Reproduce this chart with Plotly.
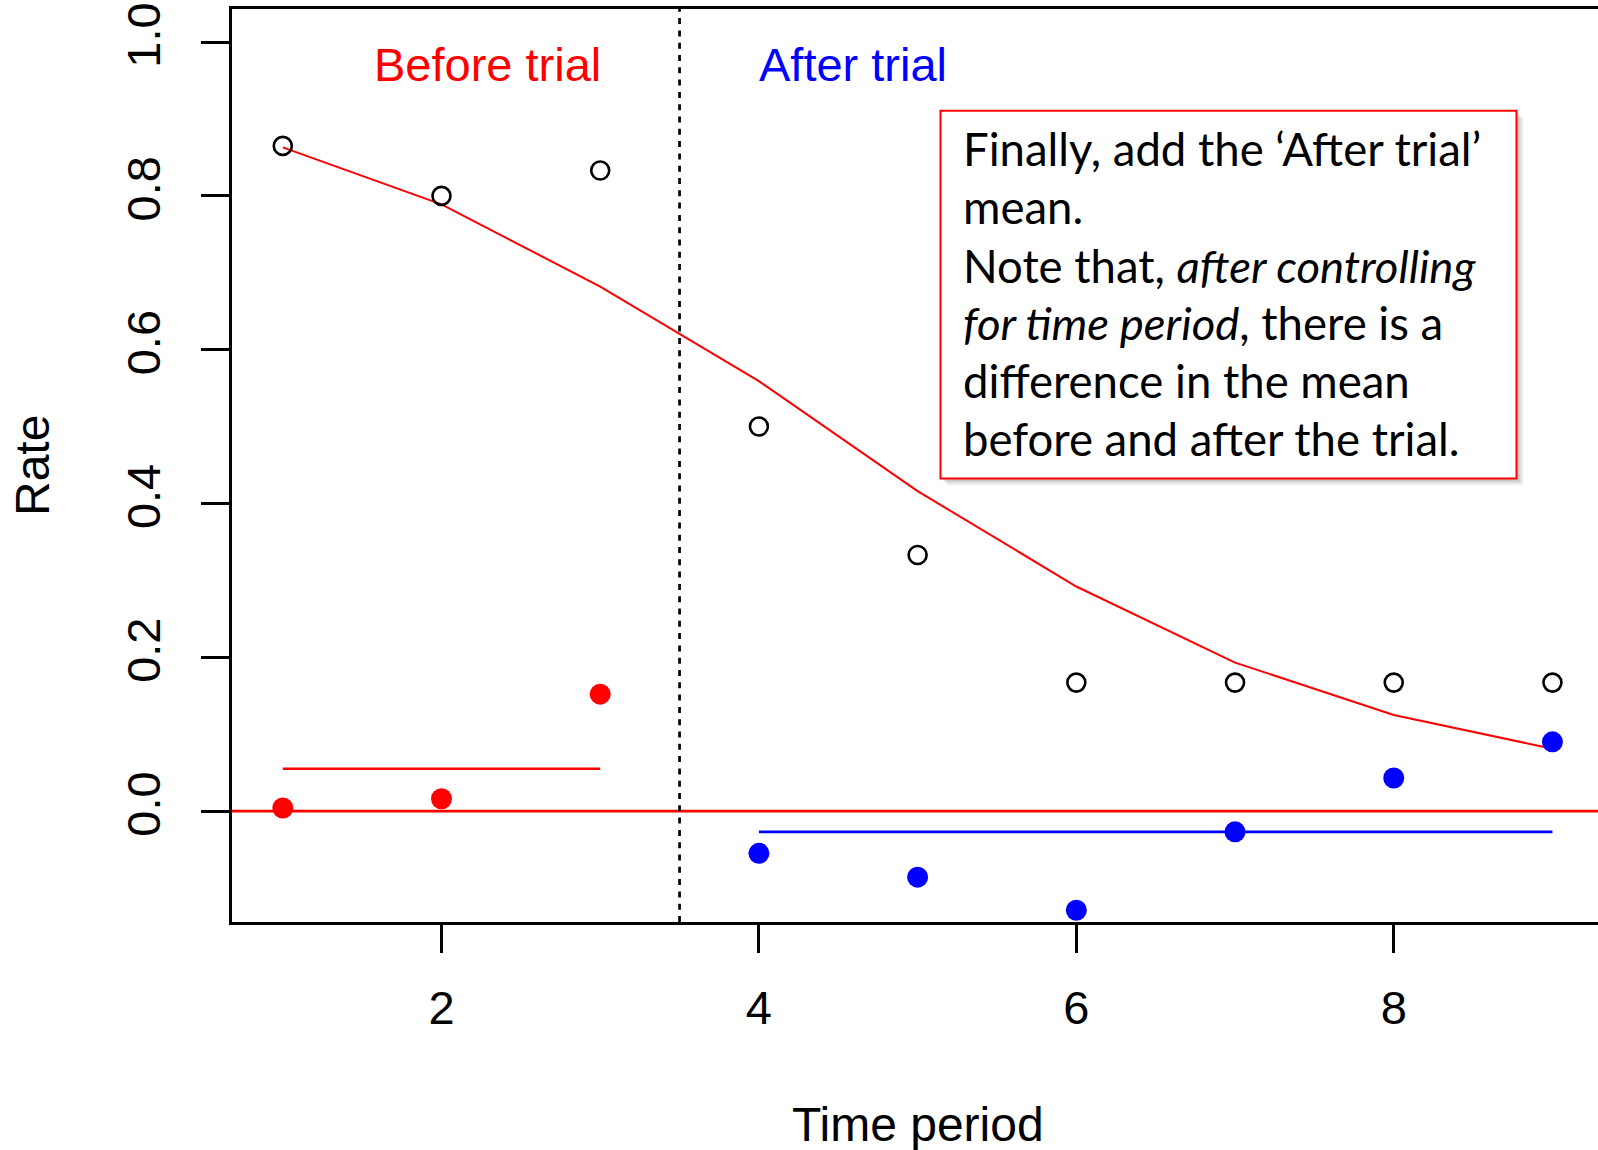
import plotly.graph_objects as go

# ---------------- data ----------------
time_period = [1, 2, 3, 4, 5, 6, 7, 8, 9]
rate = [0.865, 0.800, 0.833, 0.500, 0.333, 0.167, 0.167, 0.167, 0.167]
smooth_fit = [0.863, 0.789, 0.682, 0.559, 0.416, 0.292, 0.193, 0.125, 0.081]

before_x = [1, 2, 3]
before_resid = [0.004, 0.016, 0.152]
after_x = [4, 5, 6, 7, 8, 9]
after_resid = [-0.055, -0.086, -0.129, -0.027, 0.043, 0.090]

before_mean_x = [1, 3]
before_mean_y = [0.055, 0.055]
after_mean_x = [4, 9]
after_mean_y = [-0.027, -0.027]

trial_split = 3.5
zero_level = 0.0

x_ticks = [2, 4, 6, 8]
x_tick_labels = ["2", "4", "6", "8"]
y_ticks = [0.0, 0.2, 0.4, 0.6, 0.8, 1.0]
y_tick_labels = ["0.0", "0.2", "0.4", "0.6", "0.8", "1.0"]

x_range = [0.68, 9.287]
y_range = [-0.1443, 1.043]

x_title = "Time period"
y_title = "Rate"

phase_labels = ["Before trial", "After trial"]
phase_label_x = [2.287, 4.592]
phase_label_y = [0.971, 0.971]
phase_colors = ["#FF0000", "#0000FF"]

note_lines = [
    "Finally, add the \u2018After trial\u2019",
    "mean.",
    "Note that, <i>after controlling</i>",
    "<i>for time period</i>, there is a",
    "difference in the mean",
    "before and after the trial.",
]

# ---------------- layout geometry ----------------
W, H = 1598, 1150
ML, MR, MT, MB = 232, 0, 9, 228
PW, PH = W - ML - MR, H - MT - MB


def px_x(p):
    return (p - ML) / PW


def px_y(p):
    return (H - MB - p) / PH


AX_FONT = "Liberation Sans, Arial, sans-serif"
NOTE_FONT = "Lato, Carlito, Calibri, sans-serif"

fig = go.Figure()

# mean lines
fig.add_trace(go.Scatter(x=before_mean_x, y=before_mean_y, mode="lines",
                         line=dict(color="#FF0000", width=2.7), hoverinfo="skip"))
fig.add_trace(go.Scatter(x=after_mean_x, y=after_mean_y, mode="lines",
                         line=dict(color="#0000FF", width=2.7), hoverinfo="skip"))
# smooth fit
fig.add_trace(go.Scatter(x=time_period, y=smooth_fit, mode="lines",
                         line=dict(color="#FF0000", width=2)))
# raw rates (open circles)
fig.add_trace(go.Scatter(x=time_period, y=rate, mode="markers",
                         marker=dict(symbol="circle-open", size=18, color="black",
                                     line=dict(width=2.6, color="black"))))
# residuals
fig.add_trace(go.Scatter(x=before_x, y=before_resid, mode="markers",
                         marker=dict(symbol="circle", size=21, color="#FF0000")))
fig.add_trace(go.Scatter(x=after_x, y=after_resid, mode="markers",
                         marker=dict(symbol="circle", size=21, color="#0000FF")))

# zero line and trial split
fig.add_shape(type="line", xref="paper", x0=0, x1=1, yref="y", y0=zero_level, y1=zero_level,
              line=dict(color="#FF0000", width=2.7), layer="below")
fig.add_shape(type="line", xref="x", x0=trial_split, x1=trial_split, yref="paper", y0=0, y1=1,
              line=dict(color="black", width=2.7, dash="6px,6.3px"), layer="below")

# phase labels
for txt, lx, ly, col in zip(phase_labels, phase_label_x, phase_label_y, phase_colors):
    fig.add_annotation(x=lx, y=ly, xref="x", yref="y", text=txt, showarrow=False,
                       xanchor="center", yanchor="middle",
                       font=dict(family=AX_FONT, size=47, color=col))

# axis titles
fig.add_annotation(x=px_x(917.5), y=px_y(1124), xref="paper", yref="paper", text=x_title,
                   showarrow=False, xanchor="center", yanchor="middle",
                   font=dict(family=AX_FONT, size=48, color="black"))
fig.add_annotation(x=px_x(32), y=px_y(466), xref="paper", yref="paper", text=y_title,
                   showarrow=False, xanchor="center", yanchor="middle", textangle=-90,
                   font=dict(family=AX_FONT, size=48, color="black"))

# note box with soft shadow
bx0, bx1, by0, by1 = 940.5, 1516.5, 110.7, 478.5
for off, alpha in [(7, 0.05), (5, 0.08), (3, 0.10)]:
    fig.add_shape(type="rect", xref="paper", yref="paper",
                  x0=px_x(bx0 + off), x1=px_x(bx1 + off), y0=px_y(by1 + off), y1=px_y(by0 + off),
                  line=dict(width=0), fillcolor=f"rgba(0,0,0,{alpha})", layer="above")
fig.add_shape(type="rect", xref="paper", yref="paper",
              x0=px_x(bx0), x1=px_x(bx1), y0=px_y(by1), y1=px_y(by0),
              line=dict(color="#FF0000", width=2), fillcolor="white", layer="above")

line_centers = [148.8, 206.9, 265.0, 322.1, 380.2, 438.3]
for txt, cy in zip(note_lines, line_centers):
    fig.add_annotation(x=px_x(961), y=px_y(cy), xref="paper", yref="paper", text=txt,
                       showarrow=False, xanchor="left", yanchor="middle",
                       font=dict(family=NOTE_FONT, size=45.5, color="black"))

fig.update_layout(
    width=W, height=H,
    margin=dict(l=ML, r=MR, t=MT, b=MB, pad=0),
    paper_bgcolor="white", plot_bgcolor="white",
    showlegend=False,
    xaxis=dict(
        range=x_range, tickmode="array", tickvals=x_ticks, ticktext=x_tick_labels,
        ticks="outside", ticklen=28, tickwidth=2.5, tickcolor="black",
        showline=True, linewidth=3, linecolor="black", mirror=True,
        showgrid=False, zeroline=False,
        tickfont=dict(family=AX_FONT, size=47, color="black"),
        ticklabelstandoff=15,
        automargin=False,
    ),
    yaxis=dict(
        range=y_range, tickmode="array", tickvals=y_ticks, ticktext=y_tick_labels,
        ticks="outside", ticklen=28, tickwidth=2.5, tickcolor="black",
        showline=True, linewidth=3, linecolor="black", mirror=False,
        showgrid=False, zeroline=False, tickangle=-90,
        tickfont=dict(family=AX_FONT, size=47, color="black"),
        ticklabelstandoff=22,
        automargin=False,
    ),
)

fig.write_html(
    "out.html",
    config={"displayModeBar": False},
    post_script="document.body.style.margin='0';document.body.style.padding='0';"
                "document.body.style.overflow='hidden';"
                "document.documentElement.style.overflow='hidden';",
)
